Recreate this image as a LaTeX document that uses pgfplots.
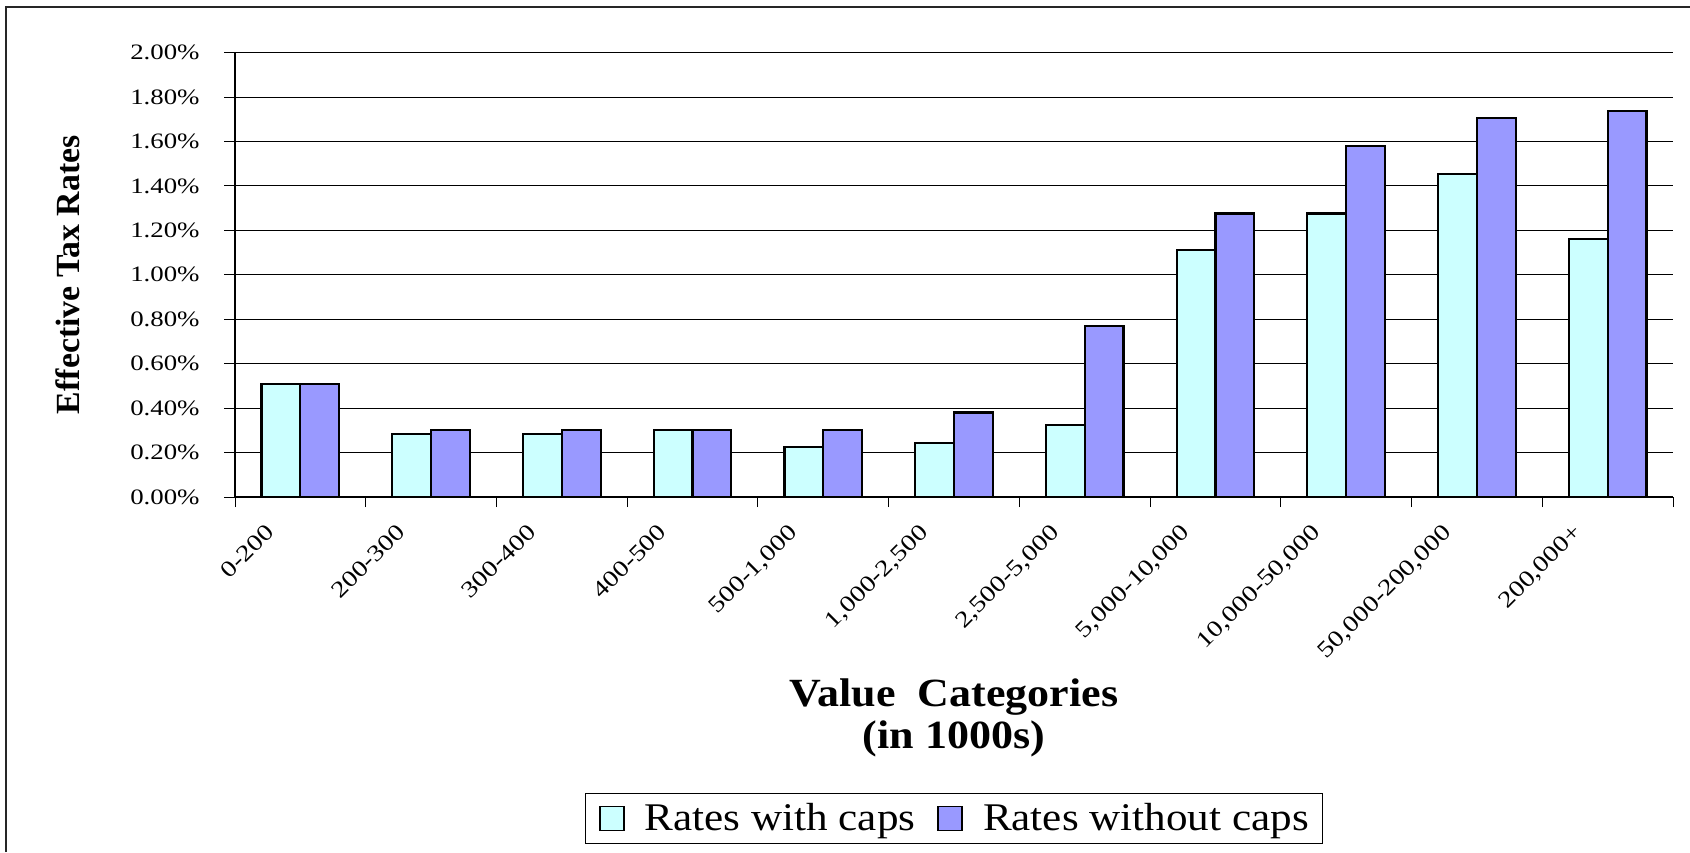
\documentclass[border=0pt]{standalone}
\usepackage{pgfplots}
\pgfplotsset{compat=1.18}
\usepackage{fontspec}
\setmainfont{Liberation Serif}
\newfontfamily\tickfont[FakeStretch=1.22]{Liberation Serif}
\newfontfamily\widefont[FakeStretch=1.1]{Liberation Serif}

\definecolor{capcyan}{RGB}{204,255,255}
\definecolor{nocappurple}{RGB}{153,153,255}

% effective tax rates, in percent
\pgfplotstableread{
idx withcaps withoutcaps
0  0.51  0.51
1  0.285 0.30
2  0.285 0.30
3  0.30  0.30
4  0.225 0.30
5  0.243 0.38
6  0.323 0.77
7  1.11  1.276
8  1.276 1.58
9  1.453 1.706
10 1.161 1.736
}\ratedata

\begin{document}
\begin{tikzpicture}[x=1pt,y=1pt]
\useasboundingbox (0,0) rectangle (845,426);
\draw[line width=1pt, black!85] (3.2,0) -- (3.2,422.4) -- (845,422.4);
\begin{axis}[
  at={(117.5pt,177.5pt)}, anchor=south west,
  scale only axis, width=719pt, height=222.2pt,
  xmin=-0.5, xmax=10.5, ymin=0, ymax=2,
  axis x line*=bottom, axis y line*=left,
  axis line style={line width=0.6pt, black},
  tick align=outside,
  major tick length=5.5pt, minor tick length=5pt,
  tick style={black, line width=0.5pt},
  ymajorgrids, grid style={black, line width=0.5pt},
  ytick={0,0.2,0.4,0.6,0.8,1,1.2,1.4,1.6,1.8,2},
  yticklabels={0.00\%,0.20\%,0.40\%,0.60\%,0.80\%,1.00\%,1.20\%,1.40\%,1.60\%,1.80\%,2.00\%},
  yticklabel style={font=\tickfont\fontsize{11}{11}\selectfont, anchor=east, inner sep=0pt, xshift=-12pt},
  xtick={0,1,2,3,4,5,6,7,8,9,10},
  xticklabels={0-200,200-300,300-400,400-500,{500-1,000},{1,000-2,500},{2,500-5,000},{5,000-10,000},{10,000-50,000},{50,000-200,000},{200,000+}},
  major x tick style={draw=none},
  minor xtick={-0.5,0.5,1.5,2.5,3.5,4.5,5.5,6.5,7.5,8.5,9.5,10.5},
  minor x tick style={black, line width=0.5pt},
  xticklabel style={font=\tickfont\fontsize{11.5}{11.5}\selectfont, xshift=-17.8pt, yshift=-7pt, rotate=45, anchor=north east, inner sep=0pt},
  ylabel={Effective Tax Rates},
  ylabel style={at={(axis description cs:-0.1161,0.5)}, anchor=center, font=\bfseries\fontsize{16.9}{17}\selectfont},
  xlabel={Value\ \ Categories\\(in 1000s)},
  xlabel style={at={(axis description cs:0.5,-0.497)}, anchor=center, align=center, font=\widefont\bfseries\fontsize{20}{21}\selectfont},
  ybar, bar width=0.297,
  legend columns=2,
  legend style={at={(axis description cs:0.5,-0.7236)}, anchor=center, draw=black, line width=0.6pt,
    font=\widefont\fontsize{19.6}{20}\selectfont, inner xsep=7pt, inner ysep=5pt,
    nodes={inner sep=0pt},
    /tikz/every odd column/.append style={column sep=10pt},
    /tikz/every even column/.append style={column sep=11pt}},
  legend image code/.code={\draw[#1, line width=0.8pt] (0pt,-6pt) rectangle (12pt,6pt);},
]
\addplot[bar shift=-0.1485, fill=capcyan, draw=black, line width=1.1pt] table[x=idx, y=withcaps] {\ratedata};
\addplot[bar shift=0.1485, fill=nocappurple, draw=black, line width=1.1pt] table[x=idx, y=withoutcaps] {\ratedata};
\legend{Rates with caps, Rates without caps}
\end{axis}
\end{tikzpicture}
\end{document}
